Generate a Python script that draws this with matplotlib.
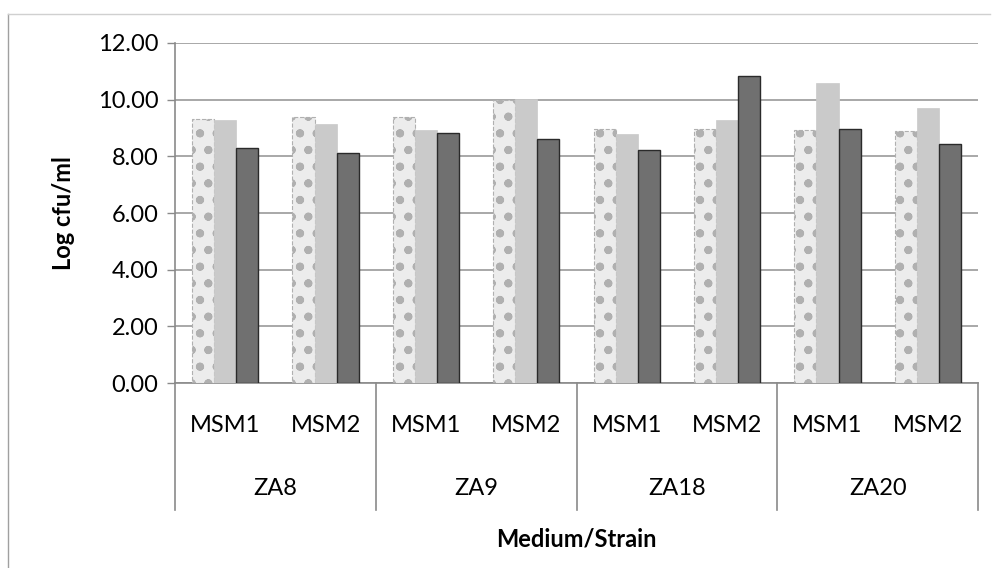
import matplotlib.pyplot as plt
import matplotlib.transforms as mtransforms
import numpy as np

plt.rcParams['font.family'] = ['Lato', 'DejaVu Sans']
plt.rcParams['hatch.linewidth'] = 1.1

strains = ['ZA8', 'ZA9', 'ZA18', 'ZA20']
media = ['MSM1', 'MSM2']

# log cfu/ml, one value per strain/medium pair (ZA8 MSM1, ZA8 MSM2, ZA9 MSM1, ...)
series_a = [9.30, 9.40, 9.40, 9.98, 8.98, 8.98, 8.93, 8.90]
series_b = [9.27, 9.14, 8.93, 10.02, 8.78, 9.28, 10.60, 9.72]
series_c = [8.28, 8.10, 8.81, 8.62, 8.22, 10.84, 8.96, 8.45]

y_ticks = [0, 2, 4, 6, 8, 10, 12]
fs = 17

fig = plt.figure(figsize=(9.93, 5.68), dpi=100)
ax = fig.add_axes([0.1762, 0.3257, 0.8088, 0.5986])

n = len(series_a)
x = np.arange(n) + 0.5
w = 0.22

ax.bar(x - w, series_a, w, facecolor='#ececec', edgecolor='#b0b0b0',
       linewidth=0.8, linestyle='--', hatch='o.', zorder=3)
ax.bar(x, series_b, w, facecolor='#cacaca', edgecolor='#cacaca',
       linewidth=0.5, zorder=3)
ax.bar(x + w, series_c, w, facecolor='#707070', edgecolor='#2a2a2a',
       linewidth=1.0, zorder=3)

ax.set_xlim(0, n)
ax.set_ylim(0, 12)
ax.set_yticks(y_ticks)
ax.set_yticklabels([f'{v:.2f}' for v in y_ticks], fontsize=fs)
ax.yaxis.grid(True, color='#9a9a9a', linewidth=1.2, zorder=0)
ax.tick_params(axis='y', length=6, width=1, color='#8a8a8a', pad=6)
ax.set_xticks([])

for side in ['top', 'right']:
    ax.spines[side].set_visible(False)
ax.spines['left'].set_color('#8a8a8a')
ax.spines['bottom'].set_color('#8a8a8a')
ax.spines['left'].set_linewidth(1.2)
ax.spines['bottom'].set_linewidth(1.2)

# two-level category axis under the bars
trans = mtransforms.blended_transform_factory(ax.transData, ax.transAxes)
for i in range(len(strains) + 1):
    ax.plot([2 * i, 2 * i], [0, -0.3735], transform=trans, color='#8a8a8a',
            linewidth=1.2, clip_on=False)
for i, s in enumerate(strains):
    for j, m in enumerate(media):
        ax.text(2 * i + j + 0.5, -0.125, m, transform=trans, ha='center',
                va='center', fontsize=fs)
    ax.text(2 * i + 1, -0.31, s, transform=trans, ha='center', va='center',
            fontsize=fs)

ax.text(4, -0.46, 'Medium/Strain', transform=trans, ha='center', va='center',
        fontsize=fs, fontweight='bold')
fig.text(0.064, 0.625, 'Log cfu/ml', rotation=90, ha='center', va='center',
         fontsize=fs, fontweight='bold')

# faint outer frame of the chart area
fig.add_artist(plt.Line2D([0.008, 0.008], [0.0, 0.975], color='#a0a0a0', linewidth=1.0))
fig.add_artist(plt.Line2D([0.008, 0.997], [0.975, 0.975], color='#d0d0d0', linewidth=1.0))

fig.savefig('out.png', dpi=100)
plt.close(fig)
